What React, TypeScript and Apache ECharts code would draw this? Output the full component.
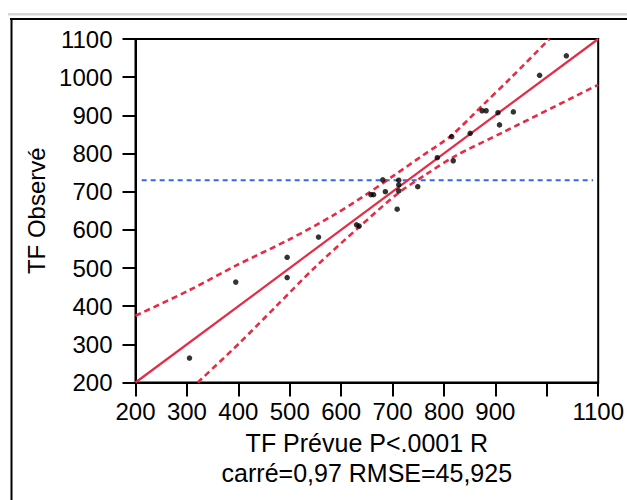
import React, { useEffect, useRef } from 'react';
import * as echarts from 'echarts';

// Observed vs predicted points
const predicted = [1038, 986, 874, 882, 905, 935, 908, 851, 815, 818, 787, 681, 712, 712, 712, 686, 658, 663, 749, 709, 630, 635, 556, 495, 495, 395, 305];
const observed = [1056, 1005, 912, 912, 907, 909, 875, 853, 844, 781, 789, 731, 730, 718, 702, 700, 692, 692, 713, 654, 613, 610, 581, 528, 475, 463, 264];

// Fit line
const fitX = [200, 1100];
const fitY = [200, 1100];

// Confidence curves
const upperX = [200, 305, 395, 498, 582, 646, 700, 760, 815, 878, 930, 1000, 1005];
const upperY = [375, 442, 506, 574, 636, 690, 740, 796, 848, 930, 998, 1093, 1100];
const lowerX = [321, 402, 473, 550, 634, 711, 765, 820, 917, 1100];
const lowerY = [200, 303, 399, 503, 606, 696, 745, 792, 857, 980];

// Mean of observed
const meanX = [212, 1090];
const meanY = 730;

const AXIS_MIN = 200;
const AXIS_MAX = 1100;
const AXIS_STEP = 100;
const hiddenXTicks = [1000];

const xName = 'TF Prévue P<.0001 R\ncarré=0,97 RMSE=45,925';
const yName = 'TF Observé';

const FONT = '"Liberation Sans", Arial, Helvetica, sans-serif';
const RED = '#e62b45';
const BLUE = '#3567e6';

const zip = (xs: number[], ys: number[]) => xs.map((x, i) => [x, ys[i]]);

export default function App() {
  const ref = useRef<HTMLDivElement>(null);
  useEffect(() => {
    if (!ref.current) return;
    const chart = echarts.init(ref.current, undefined, { renderer: 'svg' });
    chart.setOption({
      animation: false,
      backgroundColor: '#ffffff',
      textStyle: { fontFamily: FONT },
      grid: {
        left: 135.5,
        top: 39,
        width: 469,
        height: 343.5,
        show: true,
        borderColor: '#000',
        borderWidth: 2,
        containLabel: false,
      },
      graphic: [
        { type: 'rect', shape: { x: 8, y: 13, width: 619, height: 2.5 }, style: { fill: '#d6d6d6' } },
        { type: 'rect', shape: { x: 10, y: 18, width: 617, height: 2 }, style: { fill: '#000' } },
        { type: 'rect', shape: { x: 10.5, y: 18, width: 2, height: 482 }, style: { fill: '#000' } },
      ],
      xAxis: {
        type: 'value',
        min: AXIS_MIN,
        max: AXIS_MAX,
        interval: AXIS_STEP,
        name: xName,
        nameLocation: 'middle',
        nameGap: 45,
        nameTextStyle: { fontSize: 25, color: '#000', fontFamily: FONT, lineHeight: 30 },
        axisLine: { show: true, lineStyle: { color: '#000', width: 2 } },
        axisTick: { show: true, length: 14, lineStyle: { color: '#000', width: 2 } },
        axisLabel: {
          fontSize: 24,
          color: '#000',
          fontFamily: FONT,
          margin: 17,
          formatter: (v: number) => (hiddenXTicks.includes(v) ? '' : String(v)),
        },
        splitLine: { show: false },
      },
      yAxis: {
        type: 'value',
        min: AXIS_MIN,
        max: AXIS_MAX,
        interval: AXIS_STEP,
        name: yName,
        nameLocation: 'middle',
        nameGap: 79,
        nameRotate: 90,
        nameTextStyle: { fontSize: 24, color: '#000', fontFamily: FONT },
        axisLine: { show: true, lineStyle: { color: '#000', width: 2 } },
        axisTick: { show: true, length: 13, lineStyle: { color: '#000', width: 2 } },
        axisLabel: {
          fontSize: 24,
          color: '#000',
          fontFamily: FONT,
          margin: 23,
          formatter: (v: number) => String(v),
        },
        splitLine: { show: false },
      },
      series: [
        {
          type: 'line',
          data: meanX.map((x) => [x, meanY]),
          symbol: 'none',
          lineStyle: { color: BLUE, width: 2, type: [5, 4] },
          z: 2,
        },
        {
          type: 'line',
          data: zip(upperX, upperY),
          smooth: 0.3,
          symbol: 'none',
          lineStyle: { color: RED, width: 2.6, type: [6, 4] },
          z: 3,
        },
        {
          type: 'line',
          data: zip(lowerX, lowerY),
          smooth: 0.3,
          symbol: 'none',
          lineStyle: { color: RED, width: 2.6, type: [6, 4] },
          z: 3,
        },
        {
          type: 'line',
          data: zip(fitX, fitY),
          symbol: 'none',
          lineStyle: { color: RED, width: 2.2 },
          z: 4,
        },
        {
          type: 'scatter',
          data: zip(predicted, observed),
          symbol: 'circle',
          symbolSize: 5.5,
          itemStyle: { color: '#000' },
          z: 5,
        },
      ],
    });
    return () => chart.dispose();
  }, []);
  return <div ref={ref} style={{ position: 'fixed', left: 0, top: 0, width: 627, height: 500 }} />;
}
